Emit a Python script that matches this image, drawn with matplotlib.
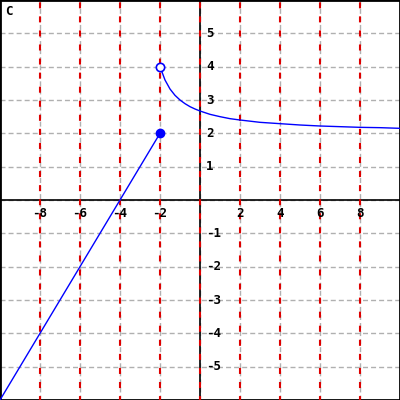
import matplotlib
matplotlib.use('Agg')
import matplotlib.pyplot as plt

# piece 1: straight segment, closed dot at the end
line_x = [-10, -2]
line_y = [-6, 2]

# piece 2: decaying curve, open dot at the start
curve_x = [-2, -1.75, -1.5, -1.25, -1, -0.75, -0.5, -0.25, 0, 0.5, 1, 1.5, 2, 3, 4, 5, 6, 7, 8, 9, 10]
curve_y = [4, 3.6, 3.33, 3.14, 3.0, 2.89, 2.8, 2.73, 2.67, 2.57, 2.5, 2.44, 2.4, 2.33, 2.29, 2.25, 2.22, 2.2, 2.18, 2.17, 2.15]

closed_pt = (-2, 2)
open_pt = (-2, 4)

x_ticks = [-8, -6, -4, -2, 2, 4, 6, 8]
y_ticks = [-5, -4, -3, -2, -1, 1, 2, 3, 4, 5]
panel_label = 'C'

fig = plt.figure(figsize=(4, 4), dpi=100)
ax = fig.add_axes([0, 0, 1, 1])
ax.set_xlim(-10, 10)
ax.set_ylim(-6, 6)
ax.set_xticks([])
ax.set_yticks([])
for s in ax.spines.values():
    s.set_color('black')
    s.set_linewidth(2)

# grid
for yv in range(-5, 6):
    ax.axhline(yv, color='#b0b0b0', lw=1, ls=(0, (3.6, 2.2)), zorder=1)
for xv in range(-8, 9, 2):
    ax.axvline(xv, color='#b0b0b0', lw=1, ls=(0, (3.6, 2.2)), zorder=1)

# axes
ax.axhline(0, color='black', lw=1.2, zorder=2)
ax.axvline(0, color='black', lw=1.2, zorder=2)

for xv in range(-8, 9, 2):
    ax.axvline(xv, color='#dd0000', lw=1.5, ls=(1, (2.9, 3.85)), zorder=3)

# tick labels
for xv in x_ticks:
    ax.text(xv, -0.2, str(xv), ha='center', va='top', fontsize=9,
            fontweight='bold', family='DejaVu Sans Mono', zorder=4)
for yv in y_ticks:
    ax.text(0.3, yv, str(yv), ha='left', va='center', fontsize=9,
            fontweight='bold', family='DejaVu Sans Mono', zorder=4)

ax.plot(line_x, line_y, color='blue', lw=1, zorder=5)
ax.plot(curve_x, curve_y, color='blue', lw=1, zorder=5)
ax.plot(*closed_pt, 'o', color='blue', ms=6, zorder=6)
ax.plot(*open_pt, 'o', mfc='white', mec='blue', mew=1.2, ms=6, zorder=6)

ax.text(-9.75, 5.85, panel_label, ha='left', va='top', fontsize=9,
        fontweight='bold', family='DejaVu Sans Mono')

fig.savefig('out.png', dpi=100)
